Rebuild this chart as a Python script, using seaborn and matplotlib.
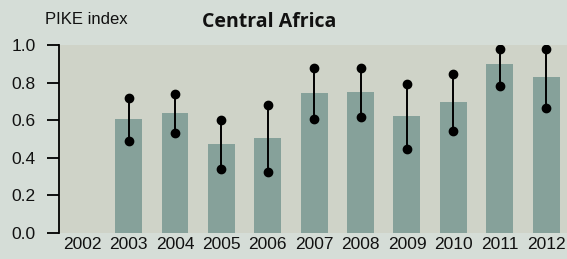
import matplotlib
matplotlib.use("Agg")
import matplotlib.pyplot as plt
import seaborn as sns
import pandas as pd
import numpy as np

years = ["2002", "2003", "2004", "2005", "2006", "2007", "2008", "2009", "2010", "2011", "2012"]
pike = [np.nan, 0.606, 0.638, 0.473, 0.505, 0.745, 0.750, 0.622, 0.697, 0.899, 0.830]
upper = [np.nan, 0.720, 0.740, 0.603, 0.680, 0.879, 0.879, 0.794, 0.847, 0.979, 0.979]
lower = [np.nan, 0.490, 0.530, 0.339, 0.326, 0.605, 0.617, 0.447, 0.543, 0.782, 0.663]
yticks = [0.0, 0.2, 0.4, 0.6, 0.8, 1.0]

sns.set_style("white")
plt.rcParams['font.family'] = ['Liberation Sans', 'DejaVu Sans']

df = pd.DataFrame({"year": years, "pike": pike, "upper": upper, "lower": lower})

fig = plt.figure(figsize=(5.67, 2.59), dpi=100)
fig.patch.set_facecolor("#d5ddd7")
ax = fig.add_axes([59/567, 26/259, 1 - 59/567, 188/259])
ax.set_facecolor("#cfd3c8")

sns.barplot(data=df, x="year", y="pike", color="#86a19a", saturation=1,
            width=0.58, ax=ax, errorbar=None, edgecolor="none", linewidth=0)

xs = np.arange(len(years))
for x, lo, hi in zip(xs, lower, upper):
    if np.isnan(lo):
        continue
    ax.plot([x, x], [lo, hi], color="black", lw=1.4, zorder=3)
    ax.plot([x, x], [lo, hi], 'o', color="black", ms=6, zorder=4)

ax.set_xlim(-0.5, 10.45)
ax.set_ylim(0, 1.0)
ax.set_yticks(yticks)
ax.set_yticklabels([f"{v:.1f}" for v in yticks], fontsize=12.5, color="#111111")
ax.set_xticks(xs)
ax.set_xticklabels(years, fontsize=12.5, color="#111111")
ax.set_xlabel("")
ax.set_ylabel("")
for s in ["top", "right", "bottom"]:
    ax.spines[s].set_visible(False)
ax.spines["left"].set_color("black")
ax.spines["left"].set_linewidth(1.3)
ax.tick_params(axis="y", length=8.6, width=1.3, color="black", pad=8, left=True)
ax.tick_params(axis="x", length=0, pad=3)

fig.text(45/567, 1 - 20/259, "PIKE index", fontsize=12, va="center", ha="left", color="#111111")
fig.text(269/567, 1 - 22/259, "Central Africa", fontsize=14, fontweight="bold",
         family=["Open Sans", "DejaVu Sans"], va="center", ha="center", color="#111111")

fig.savefig("out.png", dpi=100, facecolor=fig.get_facecolor())
